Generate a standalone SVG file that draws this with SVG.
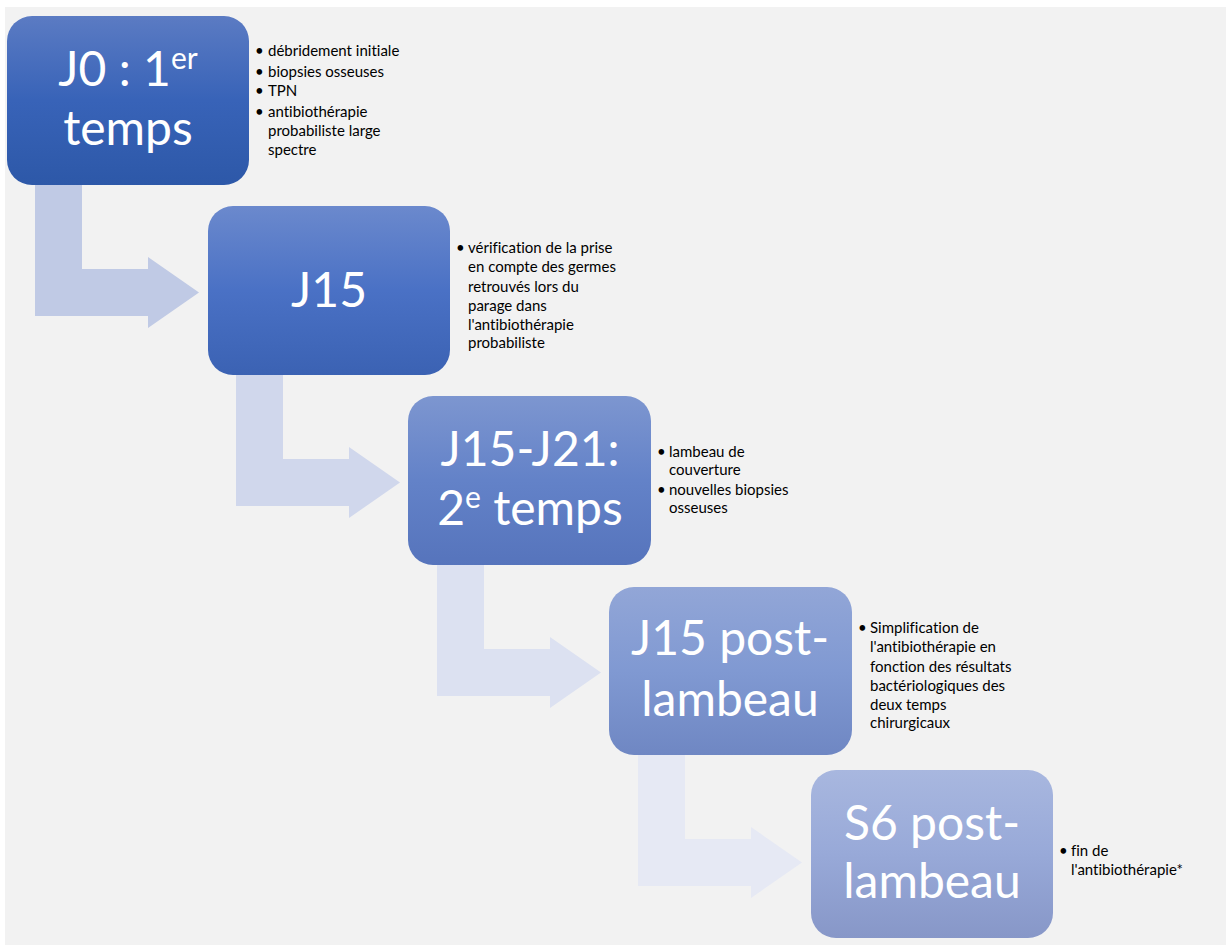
<svg xmlns="http://www.w3.org/2000/svg" width="1226" height="948" viewBox="0 0 1226 948">
<defs>
<linearGradient id="g1" x1="0" y1="0" x2="0" y2="1"><stop offset="0" stop-color="#5B7BC3"/><stop offset="0.5" stop-color="#3863B8"/><stop offset="1" stop-color="#2D58A8"/></linearGradient>
<linearGradient id="g2" x1="0" y1="0" x2="0" y2="1"><stop offset="0" stop-color="#6B89CD"/><stop offset="0.5" stop-color="#4A71C5"/><stop offset="1" stop-color="#3B62B3"/></linearGradient>
<linearGradient id="g3" x1="0" y1="0" x2="0" y2="1"><stop offset="0" stop-color="#7D96D0"/><stop offset="0.5" stop-color="#6382C8"/><stop offset="1" stop-color="#5674BC"/></linearGradient>
<linearGradient id="g4" x1="0" y1="0" x2="0" y2="1"><stop offset="0" stop-color="#92A6D7"/><stop offset="0.5" stop-color="#8099D2"/><stop offset="1" stop-color="#6F87C3"/></linearGradient>
<linearGradient id="g5" x1="0" y1="0" x2="0" y2="1"><stop offset="0" stop-color="#A8B7DF"/><stop offset="0.5" stop-color="#98A9D8"/><stop offset="1" stop-color="#8797C8"/></linearGradient>
<path id="arr" d="M35,180 H82 V269 H148 V257 L199,292.5 L148,328 V316 H35 Z"/>
</defs>
<style>
.big{font-family:Lato,"Open Sans",sans-serif;font-size:48px;fill:#ffffff;text-anchor:middle;font-variant-ligatures:none}
.sup{font-size:30px}
.sm{font-family:Lato,"Open Sans",sans-serif;font-size:15px;fill:#000000;font-variant-ligatures:none}
</style>
<rect x="5" y="7" width="1221" height="938" fill="#F2F2F2"/>
<g id="connectors">
<use href="#arr" fill="#C0CAE5"/>
<use href="#arr" fill="#D0D7EC" transform="translate(201,190)"/>
<use href="#arr" fill="#DCE1F1" transform="translate(402,380)"/>
<use href="#arr" fill="#E6E9F4" transform="translate(603,570)"/>
</g>
<g id="node1">
<rect x="7" y="16" width="242" height="169" rx="25" fill="url(#g1)"/>
<text class="big" x="128" y="86">J0 : 1<tspan class="sup" dy="-17">er</tspan></text>
<text class="big" x="128" y="145">temps</text>
<g class="sm">
<text x="255" y="56">•</text><text x="268" y="56">débridement initiale</text>
<text x="255" y="77">•</text><text x="268" y="77">biopsies osseuses</text>
<text x="255" y="96">•</text><text x="268" y="96">TPN</text>
<text x="255" y="117">•</text><text x="268" y="117">antibiothérapie</text>
<text x="268" y="136">probabiliste large</text>
<text x="268" y="155">spectre</text>
</g>
</g>
<g id="node2">
<rect x="208" y="206" width="242" height="169" rx="25" fill="url(#g2)"/>
<text class="big" x="329" y="307">J15</text>
<g class="sm">
<text x="456" y="253">•</text><text x="468" y="253">vérification de la prise</text>
<text x="468" y="272">en compte des germes</text>
<text x="468" y="292">retrouvés lors du</text>
<text x="468" y="311">parage dans</text>
<text x="468" y="330">l'antibiothérapie</text>
<text x="468" y="348">probabiliste</text>
</g>
</g>
<g id="node3">
<rect x="408" y="396" width="243" height="169" rx="25" fill="url(#g3)"/>
<text class="big" x="530" y="466">J15-J21:</text>
<text class="big" x="530" y="525">2<tspan class="sup" dy="-17">e</tspan><tspan dy="17"> temps</tspan></text>
<g class="sm">
<text x="657" y="457">•</text><text x="669" y="457">lambeau de</text>
<text x="669" y="475">couverture</text>
<text x="657" y="495">•</text><text x="669" y="495">nouvelles biopsies</text>
<text x="669" y="513">osseuses</text>
</g>
</g>
<g id="node4">
<rect x="609" y="587" width="243" height="168" rx="25" fill="url(#g4)"/>
<text class="big" x="730" y="655">J15 post-</text>
<text class="big" x="730" y="716">lambeau</text>
<g class="sm">
<text x="858" y="633">•</text><text x="870" y="633">Simplification de</text>
<text x="870" y="652">l'antibiothérapie en</text>
<text x="870" y="672">fonction des résultats</text>
<text x="870" y="691">bactériologiques des</text>
<text x="870" y="710">deux temps</text>
<text x="870" y="728">chirurgicaux</text>
</g>
</g>
<g id="node5">
<rect x="811" y="770" width="242" height="168" rx="25" fill="url(#g5)"/>
<text class="big" x="932" y="840">S6 post-</text>
<text class="big" x="932" y="898">lambeau</text>
<g class="sm">
<text x="1059" y="856">•</text><text x="1071" y="856">fin de</text>
<text x="1071" y="875">l'antibiothérapie*</text>
</g>
</g>
</svg>
